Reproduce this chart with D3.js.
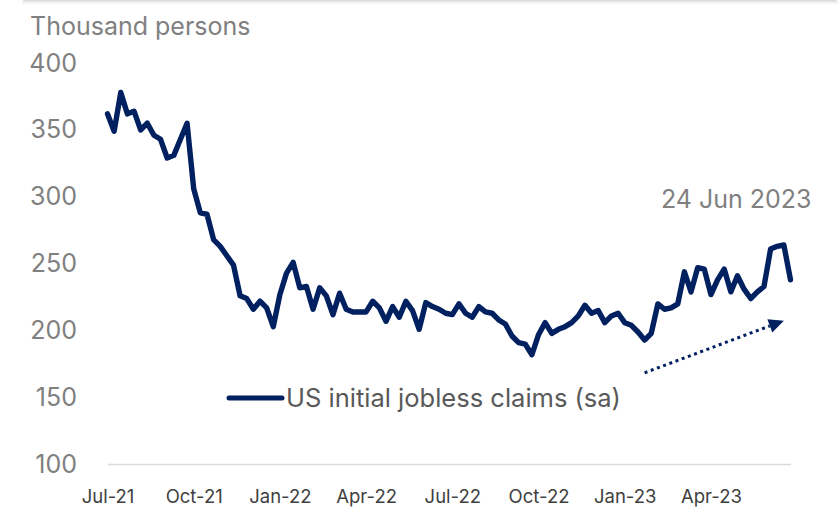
<!DOCTYPE html>
<html>
<head>
<meta charset="utf-8">
<script src="https://cdn.jsdelivr.net/npm/d3@7"></script>
<style>
  html, body { margin: 0; padding: 0; background: #ffffff; }
  svg { display: block; font-family: Inter, "Noto Sans", sans-serif; }
</style>
</head>
<body>
<svg id="chart" width="838" height="508"></svg>
<script>
// Weekly US initial jobless claims (seasonally adjusted), thousand persons
const firstWeek = new Date(2021, 6, 3);   // week ending Sat 3 Jul 2021
const lastWeek = new Date(2023, 5, 24);   // week ending Sat 24 Jun 2023

const claims = [
  362, 349, 378, 362, 364, 350, 355, 346, 343, 329,
  331, 343, 355, 306, 288, 287, 268, 263, 256, 249,
  226, 224, 216, 222, 217, 203, 227, 243, 251, 232,
  233, 216, 232, 226, 212, 228, 216, 214, 214, 214,
  222, 217, 207, 218, 210, 222, 215, 201, 221, 218,
  216, 213, 212, 220, 213, 210, 218, 214, 213, 208,
  205, 196, 191, 190, 182, 197, 206, 198, 201, 203,
  206, 211, 219, 213, 215, 206, 211, 213, 206, 204,
  199, 193, 198, 220, 216, 217, 220, 244, 229, 247,
  246, 227, 238, 246, 229, 241, 231, 224, 229, 233,
  261, 263, 264, 238
];

const yTicks = [100, 150, 200, 250, 300, 350, 400];
const xTickDates = [
  new Date(2021, 6, 3), new Date(2021, 9, 2), new Date(2022, 0, 1), new Date(2022, 3, 2),
  new Date(2022, 6, 2), new Date(2022, 9, 1), new Date(2022, 11, 31), new Date(2023, 3, 1)
];
const xTickLabels = ["Jul-21", "Oct-21", "Jan-22", "Apr-22", "Jul-22", "Oct-22", "Jan-23", "Apr-23"];

const unitLabel = "Thousand persons";
const seriesName = "US initial jobless claims (sa)";
const lastLabel = "24 Jun 2023";

// Trend arrow, from (date, value) to (date, value)
const trendFrom = [new Date(2023, 0, 21), 168.5];
const trendTo = [new Date(2023, 5, 17), 207.5];

const weeks = d3.timeSaturday.range(firstWeek, d3.timeDay.offset(lastWeek, 1));
const series = weeks.map((d, i) => ({ date: d, value: claims[i] }));

const svg = d3.select("#chart");
const W = 838, H = 508;
const navy = "#002060";

// soft shadow edge of the panel above
const defs = svg.append("defs");
const sg = defs.append("linearGradient").attr("id", "topShade")
  .attr("x1", 0).attr("y1", 0).attr("x2", 0).attr("y2", 1);
sg.append("stop").attr("offset", 0).attr("stop-color", "#d4d4d4");
sg.append("stop").attr("offset", 1).attr("stop-color", "#ffffff").attr("stop-opacity", 0);
svg.append("rect").attr("x", 22).attr("y", 0).attr("width", W - 22).attr("height", 6)
  .attr("rx", 3).attr("fill", "url(#topShade)");

const x = d3.scaleTime().domain([firstWeek, lastWeek]).range([107.5, 790.5]);
const y = d3.scaleLinear().domain([100, 400]).range([464.5, 63]);

// y axis labels
const yAxis = svg.append("g").attr("transform", "translate(77,0)")
  .call(d3.axisLeft(y).tickValues(yTicks).tickSize(0).tickPadding(0));
yAxis.select(".domain").remove();
yAxis.selectAll("text")
  .attr("fill", "#808080").attr("font-size", 25).attr("font-family", "Inter, sans-serif");

// baseline
svg.append("line")
  .attr("x1", 108).attr("x2", 791)
  .attr("y1", y(100)).attr("y2", y(100))
  .attr("stroke", "#d9d9d9").attr("stroke-width", 1.5);

// x axis labels
const xAxis = svg.append("g").attr("transform", `translate(0,${y(100)})`)
  .call(d3.axisBottom(x).tickValues(xTickDates)
    .tickFormat((d, i) => xTickLabels[i]).tickSize(0).tickPadding(25));
xAxis.select(".domain").remove();
xAxis.selectAll("text")
  .attr("fill", "#404040").attr("font-size", 18.5).attr("font-family", "Inter, sans-serif");

// unit label
svg.append("text").attr("x", 30).attr("y", 35)
  .attr("fill", "#808080").attr("font-size", 25).text(unitLabel);

// claims line
const line = d3.line().x(d => x(d.date)).y(d => y(d.value));
svg.append("path").datum(series)
  .attr("d", line)
  .attr("fill", "none").attr("stroke", navy).attr("stroke-width", 5.4)
  .attr("stroke-linejoin", "round").attr("stroke-linecap", "round");

// latest-week label
svg.append("text")
  .attr("x", x(lastWeek) + 21).attr("y", 208)
  .attr("text-anchor", "end").attr("fill", "#808080").attr("font-size", 25)
  .text(lastLabel);

// dotted trend arrow
const ax1 = x(trendFrom[0]), ay1 = y(trendFrom[1]);
const ax2 = x(trendTo[0]), ay2 = y(trendTo[1]);
const ang = Math.atan2(ay2 - ay1, ax2 - ax1);
const headLen = 15, headHalf = 7;
const bx = ax2 - headLen * Math.cos(ang), by = ay2 - headLen * Math.sin(ang);
svg.append("line")
  .attr("x1", ax1).attr("y1", ay1).attr("x2", bx).attr("y2", by)
  .attr("stroke", navy).attr("stroke-width", 3).attr("stroke-dasharray", "3,3.6");
svg.append("path")
  .attr("d", `M${ax2},${ay2}L${bx + headHalf * Math.sin(ang)},${by - headHalf * Math.cos(ang)}L${bx - headHalf * Math.sin(ang)},${by + headHalf * Math.cos(ang)}Z`)
  .attr("fill", navy);

// legend
const legend = svg.append("g").attr("transform", "translate(229,398)");
legend.append("line").attr("x1", 0).attr("x2", 53).attr("y1", 0).attr("y2", 0)
  .attr("stroke", navy).attr("stroke-width", 5).attr("stroke-linecap", "round");
legend.append("text").attr("x", 57).attr("y", 9)
  .attr("fill", "#595959").attr("font-size", 25.5).text(seriesName);
</script>
</body>
</html>
